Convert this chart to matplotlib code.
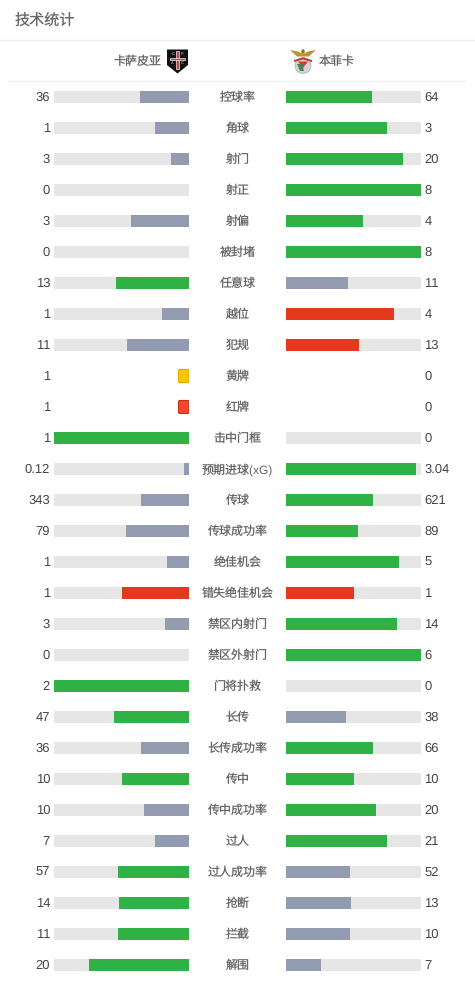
import matplotlib
matplotlib.use('Agg')
import matplotlib.pyplot as plt
from matplotlib.patches import FancyBboxPatch, Polygon, Rectangle, Circle, Ellipse

W, H = 475, 981
FONT = ['Liberation Sans', 'Noto Sans CJK SC', 'DejaVu Sans']
plt.rcParams['font.family'] = FONT
plt.rcParams['text.hinting'] = 'no_hinting'
plt.rcParams['text.hinting_factor'] = 1

TITLE = '技术统计'
HOME = '卡萨皮亚'
AWAY = '本菲卡'
stats = ['控球率', '角球', '射门', '射正', '射偏', '被封堵', '任意球', '越位', '犯规', '黄牌', '红牌',
         '击中门框', '预期进球(xG)', '传球', '传球成功率', '绝佳机会', '错失绝佳机会', '禁区内射门', '禁区外射门',
         '门将扑救', '长传', '长传成功率', '传中', '传中成功率', '过人', '过人成功率', '抢断', '拦截', '解围']
home_vals = ['36', '1', '3', '0', '3', '0', '13', '1', '11', '1', '1', '1', '0.12', '343', '79', '1', '1', '3', '0',
             '2', '47', '36', '10', '10', '7', '57', '14', '11', '20']
away_vals = ['64', '3', '20', '8', '4', '8', '11', '4', '13', '0', '0', '0', '3.04', '621', '89', '5', '1', '14', '6',
             '0', '38', '66', '10', '20', '21', '52', '13', '10', '7']
# g = green (leading), s = slate (trailing), r = red (bad stat, leading), - = no colour
home_col = ['s','s','s','s','s','s','g','s','s','-','-','g','s','s','s','s','r','s','s','g','g','s','g','s','s','g','g','g','g']
away_col = ['g','g','g','g','g','g','s','r','r','-','-','s','g','g','g','g','r','g','g','s','s','g','g','g','g','s','s','s','s']
card_rows = {'黄牌': ('#fdc500', '#e0ab00'), '红牌': ('#f5452a', '#c8301c')}

COLORS = {'g': '#30b145', 's': '#929bb0', 'r': '#e5391d'}
TRACK = '#e6e6e6'
TEXT = '#444444'
CJK_TEXT = '#666666'

fig = plt.figure(figsize=(W / 100, H / 100), dpi=100, facecolor='white')

def px_axes(x0, x1, y0, y1):
    return fig.add_axes([x0 / W, 1 - y1 / H, (x1 - x0) / W, (y1 - y0) / H])

top, bottom = 81.5, 980.5
rows = list(range(len(stats)))

# overlay in pixel coordinates
ov = px_axes(0, W, 0, H)
ov.set_xlim(0, W); ov.set_ylim(H, 0); ov.axis('off')
ov.text(14.5, 21, TITLE, fontsize=10.9, color=CJK_TEXT, ha='left', va='center')
ov.plot([0, W], [40, 40], color='#f0f0f0', lw=1)
ov.plot([9, 465], [81, 81], color='#f0f0f0', lw=1)
ov.text(161.5, 62, HOME, fontsize=8.65, color=CJK_TEXT, ha='right', va='center')
ov.text(319, 62, AWAY, fontsize=8.65, color=CJK_TEXT, ha='left', va='center')

# home crest
ov.add_patch(Polygon([(167, 49.5), (188, 49.5), (188, 65), (177.5, 73.5), (167, 65)], fc='#111111', ec='none'))
ov.add_patch(Rectangle((176, 51), 3, 18, fc='#d0404a', ec='#eeeeee', lw=0.5))
ov.add_patch(Rectangle((170, 57.5), 15, 2.6, fc='#d0404a', ec='#eeeeee', lw=0.5))
for cx, cy, ch in [(172.8, 54.2, 'C'), (182.2, 54.2, 'P'), (172.8, 63.3, 'A'), (182.2, 63.3, 'C')]:
    ov.text(cx, cy, ch, fontsize=3.2, color='#dddddd', ha='center', va='center')
# away crest
ov.add_patch(Polygon([(290, 50), (298, 51.5), (303, 54), (308, 51.5), (316, 50), (309, 56.5), (297, 56.5)],
                     fc='#b8952f', ec='none'))
ov.add_patch(Ellipse((303, 51.5), 3.5, 4.5, fc='#8f7020', ec='none'))
ov.add_patch(Circle((303, 65.5), 8, fc='#d4d4d4', ec='#aaaaaa', lw=0.5))
ov.add_patch(Polygon([(294, 60), (303, 57.5), (312, 60), (312, 62), (303, 59.5), (294, 62)], fc='#c33a35', ec='none'))
ov.add_patch(Polygon([(298, 61.5), (308, 61.5), (303, 68)], fc='#d13b3b', ec='none'))
ov.add_patch(Polygon([(297, 64), (302, 64), (304, 71), (300, 71)], fc='#3c8c5a', ec='none'))

axL = px_axes(54, 189, top, bottom)
axR = px_axes(286, 421, top, bottom)
for ax in (axL, axR):
    ax.set_ylim(len(stats) - 0.5, -0.5)
    ax.set_xlim(0, 1)
    ax.axis('off')
    ax.patch.set_alpha(0)
axL.invert_xaxis()

for i in rows:
    hv, av = float(home_vals[i]), float(away_vals[i])
    total = hv + av
    y_px = top + (i + 0.5) * 31 + 0.7
    ov.text(50, y_px, home_vals[i], fontsize=9, color=TEXT, ha='right', va='center')
    ov.text(424.5, y_px, away_vals[i], fontsize=9, color=TEXT, ha='left', va='center')
    ov.text(237.5, y_px, stats[i], fontsize=8.65, color=CJK_TEXT, ha='center', va='center')
    if stats[i] in card_rows:
        fc, ec = card_rows[stats[i]]
        axL.add_patch(FancyBboxPatch((0.0, i - 0.21), 0.078, 0.42, boxstyle='round,pad=0,rounding_size=0.012',
                                     fc=fc, ec=ec, lw=0.8, mutation_aspect=3))
        continue
    axL.barh(i, 1, height=12 / 31, color=TRACK, lw=0)
    axR.barh(i, 1, height=12 / 31, color=TRACK, lw=0)
    if total > 0:
        if hv > 0:
            axL.barh(i, hv / total, height=12 / 31, color=COLORS[home_col[i]], lw=0)
        if av > 0:
            axR.barh(i, av / total, height=12 / 31, color=COLORS[away_col[i]], lw=0)

fig.savefig('out.png', dpi=100, facecolor='white')
